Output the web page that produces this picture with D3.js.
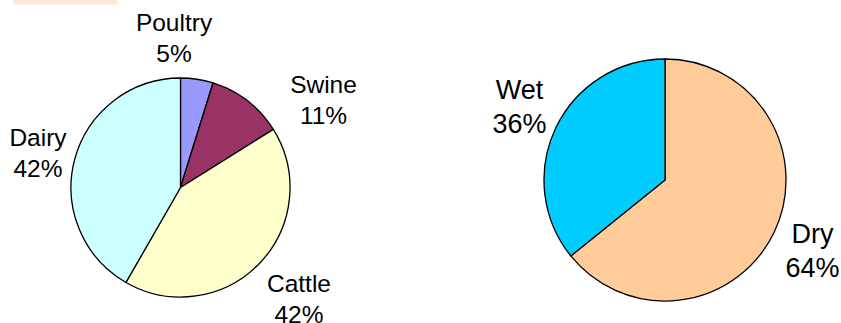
<!DOCTYPE html>
<html><head><meta charset="utf-8">
<script src="https://cdn.jsdelivr.net/npm/d3@7"></script>
<style>
html,body{margin:0;padding:0;background:#fff;}
svg{display:block;}
text{font-family:"Liberation Sans",Arial,sans-serif;fill:#000;}
</style></head>
<body><svg id="c" width="841" height="323"></svg>
<script>
// Data
const animalCategories = ["Poultry", "Swine", "Cattle", "Dairy"];
const animalValues = [4.8, 11.3, 42.2, 41.7];
const animalLabels = ["5%", "11%", "42%", "42%"];
const animalColors = ["#9999ff", "#993366", "#ffffcc", "#ccffff"];

const manureCategories = ["Dry", "Wet"];
const manureValues = [64.2, 35.8];
const manureLabels = ["64%", "36%"];
const manureColors = ["#ffcc99", "#00ccff"];

const svg = d3.select("#c");

// faint header strip at top-left
svg.append("rect").attr("x", 13).attr("y", 0).attr("width", 104).attr("height", 4.5)
  .attr("fill", "#fde6d7");

function drawPie(cfg) {
  const g = svg.append("g").attr("transform", `translate(${cfg.cx},${cfg.cy})`);
  const pie = d3.pie().sort(null).value(d => d.v);
  const arc = d3.arc().innerRadius(0).outerRadius(cfg.r);
  const data = cfg.cats.map((c, i) => ({c, v: cfg.vals[i], lab: cfg.labs[i], col: cfg.cols[i]}));
  g.selectAll("path").data(pie(data)).join("path")
    .attr("d", arc)
    .attr("fill", d => d.data.col)
    .attr("stroke", "#000")
    .attr("stroke-width", 1.3)
    .attr("stroke-linejoin", "round");
  data.forEach((d, i) => {
    const p = cfg.labelPos[d.c];
    const t = g.append("text")
      .attr("text-anchor", "middle")
      .attr("font-size", cfg.fontSize);
    t.append("tspan").attr("x", p[0]).attr("y", p[1]).text(d.c);
    t.append("tspan").attr("x", p[0]).attr("y", p[1] + cfg.lineGap).text(d.lab);
  });
}

drawPie({
  cx: 180.5, cy: 187.5, r: 109.5,
  cats: animalCategories, vals: animalValues, labs: animalLabels, cols: animalColors,
  fontSize: 24.5, lineGap: 30.5,
  labelPos: { Poultry: [174 - 180.5, 31 - 187.5], Swine: [323.5 - 180.5, 93 - 187.5],
              Cattle: [299 - 180.5, 292 - 187.5], Dairy: [38 - 180.5, 146 - 187.5] }
});

drawPie({
  cx: 665, cy: 180, r: 121,
  cats: manureCategories, vals: manureValues, labs: manureLabels, cols: manureColors,
  fontSize: 27, lineGap: 34,
  labelPos: { Wet: [519.5 - 665, 99 - 180], Dry: [812.5 - 665, 243 - 180] }
});
</script></body></html>
